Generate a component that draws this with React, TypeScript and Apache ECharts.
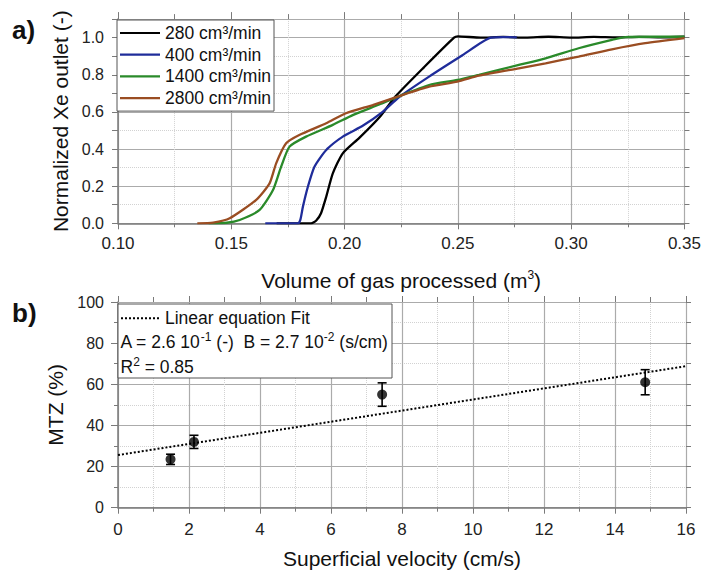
import React, { useEffect, useRef } from 'react';
import * as echarts from 'echarts';

// ---------- data ----------
const seriesNames = ['280 cm³/min', '400 cm³/min', '1400 cm³/min', '2800 cm³/min'];
const seriesColors = ['#000000', '#1f2c9a', '#2a8a2a', '#9a4d22'];

// Volume of gas processed (m3) vs normalized Xe outlet (-)
const flow280: [number, number][] = [
  [0.17, 0], [0.1852, 0], [0.1875, 0.015], [0.1896, 0.054], [0.1919, 0.143], [0.1948, 0.269],
  [0.1992, 0.377], [0.2065, 0.46], [0.2153, 0.57], [0.2226, 0.685], [0.235, 0.84], [0.2483, 1.0],
  [0.25, 1.007], [0.26, 1.0], [0.27, 1.004], [0.28, 1.0], [0.29, 1.005], [0.30, 1.0], [0.31, 1.004],
  [0.32, 1.001], [0.33, 1.004], [0.34, 1.002], [0.35, 1.005],
];
const flow400: [number, number][] = [
  [0.165, 0], [0.1794, 0], [0.1805, 0.02], [0.1816, 0.089], [0.1838, 0.197], [0.1867, 0.305],
  [0.1919, 0.395], [0.1992, 0.467], [0.208, 0.525], [0.2168, 0.6], [0.2241, 0.68], [0.2373, 0.79],
  [0.252, 0.905], [0.2645, 1.0], [0.27, 1.003], [0.276, 1.002],
];
const flow1400: [number, number][] = [
  [0.14, 0], [0.148, 0.003], [0.1537, 0.018], [0.1625, 0.072], [0.1684, 0.179], [0.172, 0.305],
  [0.1757, 0.413], [0.183, 0.467], [0.1948, 0.53], [0.2036, 0.583], [0.2153, 0.64], [0.2241, 0.685],
  [0.2373, 0.745], [0.2498, 0.772], [0.2593, 0.80], [0.2769, 0.853], [0.2887, 0.889], [0.3033, 0.943],
  [0.318, 0.988], [0.3239, 1.003], [0.335, 1.005], [0.35, 1.005],
];
const flow2800: [number, number][] = [
  [0.135, 0], [0.142, 0.004], [0.1493, 0.027], [0.161, 0.126], [0.1669, 0.215], [0.1698, 0.323],
  [0.1742, 0.431], [0.18, 0.476], [0.1919, 0.539], [0.2006, 0.593], [0.2124, 0.637], [0.2241, 0.685],
  [0.2373, 0.736], [0.2498, 0.763], [0.2593, 0.795], [0.2769, 0.835], [0.2887, 0.862], [0.3033, 0.898],
  [0.318, 0.937], [0.3327, 0.97], [0.35, 0.997],
];
const flowSeries = [flow280, flow400, flow1400, flow2800];

// Superficial velocity (cm/s) vs MTZ (%)
const velocity = [1.48, 2.14, 7.44, 14.85];
const mtz = [23.5, 32.0, 55.0, 61.0];
const mtzErr = [2.5, 3.2, 5.7, 6.1];
const fitVelocity = [0, 16];
const fitMtz = [25.6, 68.8];

const fitLabel = 'Linear equation Fit';
const fitParams = 'A = 2.6 10{sup|-1} (-)  B = 2.7 10{sup|-2} (s/cm)';
const fitR2 = 'R{sup|2} = 0.85';

// ---------- styles ----------
const FONT = 'Liberation Sans, Arial, sans-serif';
const axisGrey = '#7a7a7a';
const majorGrid = '#ababab';
const minorGrid = '#d2d2d2';
const labelColor = '#222';

const supRich = { sup: { fontSize: 12, lineHeight: 13, padding: [0, 0, 10, 0], fontFamily: FONT, color: '#111' } };

function buildOption(): any {
  const topX = [
    {
      gridIndex: 0, type: 'value', min: 0.1, max: 0.35, interval: 0.05, position: 'bottom',
      axisLine: { show: true, onZero: false, lineStyle: { color: axisGrey, width: 1.5 } },
      axisTick: { show: true, length: 6, lineStyle: { color: axisGrey } },
      minorTick: { show: true, splitNumber: 2, length: 4, lineStyle: { color: axisGrey } },
      axisLabel: { margin: 12, fontSize: 17, color: labelColor, fontFamily: FONT, formatter: (v: number) => v.toFixed(2) },
      splitLine: { show: true, lineStyle: { color: majorGrid, width: 1.2 } },
      minorSplitLine: { show: true, lineStyle: { color: minorGrid, type: 'dotted', width: 1 } },
      name: 'Volume of gas processed (m{sup|3})', nameLocation: 'middle', nameGap: 45,
      nameTextStyle: { fontSize: 21, color: '#111', lineHeight: 24, fontFamily: FONT, rich: supRich },
    },
    {
      gridIndex: 0, type: 'value', min: 0.1, max: 0.35, interval: 0.05, position: 'top',
      axisLine: { show: true, onZero: false, lineStyle: { color: majorGrid, width: 1 } },
      axisTick: { show: true, length: 7, lineStyle: { color: axisGrey } },
      minorTick: { show: true, splitNumber: 2, length: 5, lineStyle: { color: axisGrey } },
      axisLabel: { show: false }, splitLine: { show: false },
    },
  ];
  const botX = [
    {
      gridIndex: 1, type: 'value', min: 0, max: 16, interval: 2, position: 'bottom',
      axisLine: { show: true, onZero: false, lineStyle: { color: axisGrey, width: 1.5 } },
      axisTick: { show: true, length: 6, lineStyle: { color: axisGrey } },
      minorTick: { show: true, splitNumber: 2, length: 4, lineStyle: { color: axisGrey } },
      axisLabel: { margin: 13, fontSize: 17, color: labelColor, fontFamily: FONT },
      splitLine: { show: true, lineStyle: { color: majorGrid, width: 1.2 } },
      minorSplitLine: { show: true, lineStyle: { color: minorGrid, type: 'dotted', width: 1 } },
      name: 'Superficial velocity (cm/s)', nameLocation: 'middle', nameGap: 39,
      nameTextStyle: { fontSize: 21, color: '#111', lineHeight: 24, fontFamily: FONT },
    },
    {
      gridIndex: 1, type: 'value', min: 0, max: 16, interval: 2, position: 'top',
      axisLine: { show: true, onZero: false, lineStyle: { color: majorGrid, width: 1 } },
      axisTick: { show: true, length: 6, lineStyle: { color: axisGrey } },
      minorTick: { show: true, splitNumber: 2, length: 5, lineStyle: { color: axisGrey } },
      axisLabel: { show: false }, splitLine: { show: false },
    },
  ];
  const topY = [
    {
      gridIndex: 0, type: 'value', min: 0, max: 1.1, interval: 0.1, position: 'left',
      axisLine: { show: true, onZero: false, lineStyle: { color: axisGrey, width: 1.5 } },
      axisTick: { show: true, length: 6, lineStyle: { color: axisGrey } },
      axisLabel: {
        margin: 14, fontSize: 16, color: labelColor, fontFamily: FONT,
        formatter: (v: number) => {
          const k = Math.round(v * 10);
          return k % 2 === 0 && k <= 10 ? (k / 10).toFixed(1) : '';
        },
      },
      splitLine: { show: true, lineStyle: { color: minorGrid, type: 'dotted', width: 1 } },
      name: 'Normalized Xe outlet (-)', nameLocation: 'middle', nameGap: 42,
      nameTextStyle: { fontSize: 21, color: '#111', fontFamily: FONT },
    },
    {
      gridIndex: 0, type: 'value', min: 0, max: 1.1, interval: 0.1, position: 'right',
      axisLine: { show: true, onZero: false, lineStyle: { color: majorGrid, width: 1 } },
      axisTick: { show: true, length: 5, lineStyle: { color: axisGrey } },
      axisLabel: { show: false }, splitLine: { show: false },
    },
    {
      gridIndex: 0, type: 'value', min: 0, max: 1.1, interval: 0.2, position: 'left',
      axisLine: { show: false, onZero: false }, axisTick: { show: false }, axisLabel: { show: false },
      splitLine: { show: true, lineStyle: { color: majorGrid, width: 1.2 } },
    },
  ];
  const botY = [
    {
      gridIndex: 1, type: 'value', min: 0, max: 100, interval: 20, position: 'left',
      axisLine: { show: true, onZero: false, lineStyle: { color: axisGrey, width: 1.5 } },
      axisTick: { show: true, length: 7, lineStyle: { color: axisGrey } },
      minorTick: { show: true, splitNumber: 2, length: 4, lineStyle: { color: axisGrey } },
      axisLabel: { margin: 14, fontSize: 16, color: labelColor, fontFamily: FONT },
      splitLine: { show: true, lineStyle: { color: majorGrid, width: 1.2 } },
      minorSplitLine: { show: true, lineStyle: { color: minorGrid, type: 'dotted', width: 1 } },
      name: 'MTZ (%)', nameLocation: 'middle', nameGap: 42,
      nameTextStyle: { fontSize: 21, color: '#111', fontFamily: FONT },
    },
    {
      gridIndex: 1, type: 'value', min: 0, max: 100, interval: 20, position: 'right',
      axisLine: { show: true, onZero: false, lineStyle: { color: majorGrid, width: 1 } },
      axisTick: { show: true, length: 5, lineStyle: { color: axisGrey } },
      minorTick: { show: true, splitNumber: 2, length: 5, lineStyle: { color: axisGrey } },
      axisLabel: { show: false }, splitLine: { show: false },
    },
  ];

  const lineSeries = flowSeries.map((d, i) => ({
    name: seriesNames[i], type: 'line', xAxisIndex: 0, yAxisIndex: 0, data: d,
    symbol: 'none', smooth: 0.2, z: 3,
    lineStyle: { color: seriesColors[i], width: 2.3 }, itemStyle: { color: seriesColors[i] },
  }));

  const errData = velocity.map((v, i) => [v, mtz[i] - mtzErr[i], mtz[i] + mtzErr[i]]);

  return {
    animation: false,
    backgroundColor: '#ffffff',
    textStyle: { fontFamily: FONT },
    grid: [
      { left: 118, top: 19.1, width: 568, height: 204.2 },
      { left: 118, top: 302, width: 568, height: 205.7 },
    ],
    xAxis: [...topX, ...botX],
    yAxis: [...topY, ...botY],
    legend: {
      data: seriesNames.map((n) => ({ name: n, icon: 'rect' })),
      orient: 'vertical', left: 117, top: 20,
      padding: [3, 3, 3, 3], itemGap: 1.7, itemWidth: 40, itemHeight: 2.2,
      backgroundColor: '#fff', borderColor: '#555', borderWidth: 1, borderRadius: 0,
      selectedMode: false,
      textStyle: { fontSize: 17.5, color: '#111', lineHeight: 20, fontFamily: FONT },
    },
    series: [
      ...lineSeries,
      {
        name: fitLabel, type: 'line', xAxisIndex: 2, yAxisIndex: 3,
        data: fitVelocity.map((v, i) => [v, fitMtz[i]]), symbol: 'none', z: 3,
        lineStyle: { color: '#000', width: 2, type: [2, 2] },
      },
      {
        name: 'MTZ error', type: 'custom', xAxisIndex: 2, yAxisIndex: 3, data: errData, z: 4,
        renderItem: (params: any, api: any) => {
          const x = api.value(0);
          const lo = api.coord([x, api.value(1)]);
          const hi = api.coord([x, api.value(2)]);
          const w = 4.5;
          const st = { stroke: '#000', lineWidth: 1.6 };
          return {
            type: 'group',
            children: [
              { type: 'line', shape: { x1: lo[0], y1: lo[1], x2: hi[0], y2: hi[1] }, style: st },
              { type: 'line', shape: { x1: lo[0] - w, y1: lo[1], x2: lo[0] + w, y2: lo[1] }, style: st },
              { type: 'line', shape: { x1: hi[0] - w, y1: hi[1], x2: hi[0] + w, y2: hi[1] }, style: st },
            ],
          };
        },
      },
      {
        name: 'MTZ', type: 'scatter', xAxisIndex: 2, yAxisIndex: 3, z: 5,
        data: velocity.map((v, i) => [v, mtz[i]]), symbol: 'circle', symbolSize: 10,
        itemStyle: { color: '#000' },
      },
    ],
    graphic: [
      { type: 'text', x: 12, y: 30, z: 60, style: { text: 'a)', fontSize: 26, fontWeight: 'bold', fontFamily: FONT, fill: '#111', verticalAlign: 'middle' } },
      { type: 'text', x: 12, y: 313, z: 60, style: { text: 'b)', fontSize: 26, fontWeight: 'bold', fontFamily: FONT, fill: '#111', verticalAlign: 'middle' } },
      { type: 'rect', z: 50, shape: { x: 118, y: 304, width: 274, height: 74 }, style: { fill: '#fff', stroke: '#555', lineWidth: 1 } },
      { type: 'line', z: 51, shape: { x1: 121, y1: 318.3, x2: 160, y2: 318.3 }, style: { stroke: '#000', lineWidth: 2, lineDash: [2, 2] } },
      { type: 'text', x: 165, y: 318.3, z: 51, style: { text: fitLabel, fontSize: 17.5, fontFamily: FONT, fill: '#111', verticalAlign: 'middle' } },
      { type: 'text', x: 120.5, y: 341.7, z: 51, style: { text: fitParams, fontSize: 17.5, lineHeight: 23, fontFamily: FONT, fill: '#111', verticalAlign: 'middle', rich: supRich } },
      { type: 'text', x: 120.5, y: 366.7, z: 51, style: { text: fitR2, fontSize: 17.5, lineHeight: 23, fontFamily: FONT, fill: '#111', verticalAlign: 'middle', rich: supRich } },
    ],
  };
}

export default function App() {
  const ref = useRef<HTMLDivElement>(null);
  useEffect(() => {
    if (!ref.current) return;
    const chart = echarts.init(ref.current, null, { renderer: 'svg' });
    chart.setOption(buildOption());
    return () => chart.dispose();
  }, []);
  return <div ref={ref} style={{ position: 'absolute', left: 0, top: 0, width: 704, height: 576, background: '#fff' }} />;
}
